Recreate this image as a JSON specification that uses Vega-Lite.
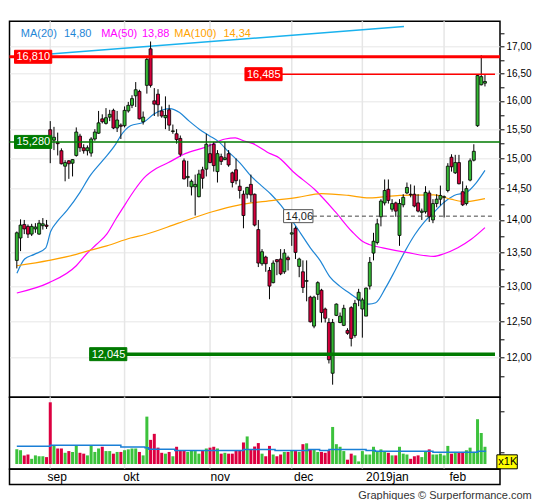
{
  "$schema": "https://vega.github.io/schema/vega-lite/v6.json",
  "background": "#ffffff",
  "padding": {"left": 6.5, "top": 19.3, "right": 0, "bottom": 0},
  "spacing": 0,
  "bounds": "flush",
  "config": {
    "font": "Liberation Sans",
    "view": {"stroke": "#000000", "strokeWidth": 1.5},
    "axis": {"labelFont": "Liberation Sans", "labelColor": "#000000", "tickColor": "#000000", "domain": false, "title": null, "labelFlush": false, "labelOverlap": false}
  },
  "title": {"text": "Graphiques © Surperformance.com", "orient": "bottom", "anchor": "end", "fontSize": 11, "fontWeight": "normal", "color": "#333333", "offset": 5},
  "datasets": {
    "candles": [
      {"i":0,"o":13.38,"h":13.82,"l":13.26,"c":13.80,"v":1147},
      {"i":1,"o":13.72,"h":14.01,"l":13.52,"c":13.92,"v":1106},
      {"i":2,"o":13.93,"h":14.00,"l":13.78,"c":13.86,"v":856},
      {"i":3,"o":13.90,"h":13.93,"l":13.72,"c":13.78,"v":898},
      {"i":4,"o":13.78,"h":13.94,"l":13.75,"c":13.90,"v":690},
      {"i":5,"o":13.86,"h":13.95,"l":13.80,"c":13.89,"v":856},
      {"i":6,"o":13.78,"h":14.00,"l":13.77,"c":13.95,"v":814},
      {"i":7,"o":13.91,"h":14.03,"l":13.85,"c":13.94,"v":814},
      {"i":8,"o":13.92,"h":14.00,"l":13.86,"c":13.90,"v":773},
      {"i":9,"o":15.49,"h":15.64,"l":14.92,"c":15.36,"v":3420},
      {"i":10,"o":15.31,"h":15.54,"l":15.14,"c":15.36,"v":1355},
      {"i":11,"o":15.27,"h":15.44,"l":15.05,"c":15.25,"v":1189},
      {"i":12,"o":15.13,"h":15.17,"l":14.90,"c":14.91,"v":1189},
      {"i":13,"o":14.87,"h":14.97,"l":14.62,"c":14.93,"v":981},
      {"i":14,"o":14.96,"h":14.97,"l":14.66,"c":14.91,"v":1064},
      {"i":15,"o":14.92,"h":14.99,"l":14.70,"c":14.98,"v":1022},
      {"i":16,"o":15.05,"h":15.53,"l":15.03,"c":15.45,"v":1355},
      {"i":17,"o":15.38,"h":15.42,"l":15.11,"c":15.18,"v":981},
      {"i":18,"o":15.18,"h":15.24,"l":15.08,"c":15.13,"v":939},
      {"i":19,"o":15.13,"h":15.22,"l":15.05,"c":15.18,"v":856},
      {"i":20,"o":15.09,"h":15.36,"l":15.03,"c":15.33,"v":1355},
      {"i":21,"o":15.33,"h":15.50,"l":15.30,"c":15.45,"v":1022},
      {"i":22,"o":15.43,"h":15.82,"l":15.42,"c":15.61,"v":1189},
      {"i":23,"o":15.68,"h":15.76,"l":15.60,"c":15.63,"v":1272},
      {"i":24,"o":15.60,"h":15.87,"l":15.58,"c":15.70,"v":1064},
      {"i":25,"o":15.71,"h":15.84,"l":15.64,"c":15.76,"v":1064},
      {"i":26,"o":15.83,"h":15.86,"l":15.50,"c":15.52,"v":939},
      {"i":27,"o":15.52,"h":15.82,"l":15.45,"c":15.66,"v":1022},
      {"i":28,"o":15.57,"h":15.60,"l":15.33,"c":15.55,"v":1022},
      {"i":29,"o":15.56,"h":15.90,"l":15.53,"c":15.83,"v":1106},
      {"i":30,"o":15.82,"h":15.98,"l":15.79,"c":15.92,"v":1147},
      {"i":31,"o":15.92,"h":16.10,"l":15.87,"c":16.04,"v":1189},
      {"i":32,"o":16.09,"h":16.34,"l":15.89,"c":16.20,"v":1189},
      {"i":33,"o":16.17,"h":16.20,"l":15.67,"c":15.68,"v":1022},
      {"i":34,"o":15.63,"h":15.81,"l":15.58,"c":15.71,"v":856},
      {"i":35,"o":16.28,"h":16.79,"l":16.13,"c":16.76,"v":2728},
      {"i":36,"o":16.96,"h":17.10,"l":16.24,"c":16.28,"v":1605},
      {"i":37,"o":16.00,"h":16.23,"l":15.73,"c":15.94,"v":1896},
      {"i":38,"o":16.12,"h":16.21,"l":15.72,"c":15.93,"v":1230},
      {"i":39,"o":15.82,"h":15.90,"l":15.70,"c":15.73,"v":981},
      {"i":40,"o":15.70,"h":16.08,"l":15.50,"c":15.74,"v":939},
      {"i":41,"o":15.84,"h":15.93,"l":15.47,"c":15.57,"v":1022},
      {"i":42,"o":15.46,"h":15.58,"l":15.42,"c":15.47,"v":814},
      {"i":43,"o":15.42,"h":15.50,"l":15.25,"c":15.32,"v":1272},
      {"i":44,"o":15.34,"h":15.39,"l":15.03,"c":15.07,"v":1106},
      {"i":45,"o":14.96,"h":15.00,"l":14.65,"c":14.66,"v":1106},
      {"i":46,"o":14.68,"h":14.96,"l":14.53,"c":14.70,"v":1022},
      {"i":47,"o":14.53,"h":14.65,"l":14.39,"c":14.62,"v":1106},
      {"i":48,"o":14.53,"h":14.73,"l":14.07,"c":14.57,"v":1064},
      {"i":49,"o":14.37,"h":14.81,"l":14.36,"c":14.74,"v":939},
      {"i":50,"o":14.81,"h":14.86,"l":14.50,"c":14.67,"v":1106},
      {"i":51,"o":14.82,"h":15.42,"l":14.70,"c":15.24,"v":1189},
      {"i":52,"o":15.08,"h":15.25,"l":14.92,"c":14.93,"v":1230},
      {"i":53,"o":15.24,"h":15.28,"l":14.78,"c":14.88,"v":1272},
      {"i":54,"o":14.78,"h":15.14,"l":14.60,"c":15.08,"v":1189},
      {"i":55,"o":15.03,"h":15.08,"l":14.89,"c":14.95,"v":939},
      {"i":56,"o":14.98,"h":15.28,"l":14.97,"c":15.01,"v":981},
      {"i":57,"o":15.08,"h":15.14,"l":14.86,"c":14.89,"v":939},
      {"i":58,"o":14.76,"h":14.78,"l":14.52,"c":14.60,"v":939},
      {"i":59,"o":14.81,"h":15.00,"l":14.57,"c":14.63,"v":1106},
      {"i":60,"o":14.54,"h":14.65,"l":14.34,"c":14.47,"v":1106},
      {"i":61,"o":14.41,"h":14.47,"l":13.87,"c":14.07,"v":1480},
      {"i":62,"o":14.41,"h":14.53,"l":14.34,"c":14.52,"v":1771},
      {"i":63,"o":14.57,"h":14.73,"l":14.28,"c":14.40,"v":1118},
      {"i":64,"o":14.41,"h":14.42,"l":13.90,"c":13.92,"v":1284},
      {"i":65,"o":13.85,"h":14.00,"l":13.28,"c":13.34,"v":1451},
      {"i":66,"o":13.33,"h":13.55,"l":13.30,"c":13.51,"v":939},
      {"i":67,"o":13.43,"h":13.45,"l":13.21,"c":13.33,"v":814},
      {"i":68,"o":13.23,"h":13.28,"l":12.81,"c":13.00,"v":1314},
      {"i":69,"o":13.05,"h":13.38,"l":13.04,"c":13.34,"v":898},
      {"i":70,"o":13.39,"h":13.40,"l":13.16,"c":13.36,"v":814},
      {"i":71,"o":13.40,"h":13.55,"l":13.16,"c":13.18,"v":898},
      {"i":72,"o":13.21,"h":13.55,"l":13.18,"c":13.49,"v":1022},
      {"i":73,"o":13.42,"h":13.45,"l":13.23,"c":13.39,"v":1022},
      {"i":74,"o":13.78,"h":14.06,"l":13.60,"c":13.80,"v":1106},
      {"i":75,"o":13.87,"h":13.90,"l":13.40,"c":13.50,"v":1064},
      {"i":76,"o":13.29,"h":13.42,"l":13.13,"c":13.40,"v":1022},
      {"i":77,"o":13.21,"h":13.38,"l":12.90,"c":12.98,"v":1397},
      {"i":78,"o":13.07,"h":13.38,"l":12.78,"c":13.08,"v":1438},
      {"i":79,"o":12.84,"h":12.86,"l":12.48,"c":12.49,"v":1147},
      {"i":80,"o":12.43,"h":12.86,"l":12.40,"c":12.84,"v":1147},
      {"i":81,"o":12.88,"h":13.07,"l":12.80,"c":13.05,"v":1022},
      {"i":82,"o":12.94,"h":12.96,"l":12.48,"c":12.62,"v":1022},
      {"i":83,"o":12.67,"h":12.69,"l":12.48,"c":12.54,"v":981},
      {"i":84,"o":12.48,"h":12.54,"l":11.92,"c":11.97,"v":1106},
      {"i":85,"o":11.79,"h":12.53,"l":11.64,"c":12.48,"v":2229},
      {"i":86,"o":12.58,"h":12.75,"l":12.57,"c":12.74,"v":1397},
      {"i":87,"o":12.48,"h":12.62,"l":12.47,"c":12.57,"v":1272},
      {"i":88,"o":12.44,"h":12.73,"l":12.43,"c":12.68,"v":1064},
      {"i":89,"o":12.37,"h":12.40,"l":12.31,"c":12.33,"v":648},
      {"i":90,"o":12.69,"h":12.71,"l":12.15,"c":12.26,"v":939},
      {"i":91,"o":12.30,"h":12.80,"l":12.27,"c":12.75,"v":856},
      {"i":92,"o":12.80,"h":12.96,"l":12.71,"c":12.91,"v":565},
      {"i":93,"o":12.67,"h":12.83,"l":12.27,"c":12.80,"v":1064},
      {"i":94,"o":12.57,"h":12.98,"l":12.57,"c":12.97,"v":898},
      {"i":95,"o":13.00,"h":13.43,"l":12.95,"c":13.35,"v":898},
      {"i":96,"o":13.49,"h":13.80,"l":13.38,"c":13.67,"v":1272},
      {"i":97,"o":13.65,"h":14.02,"l":13.62,"c":13.94,"v":1022},
      {"i":98,"o":14.05,"h":14.33,"l":13.90,"c":14.30,"v":1147},
      {"i":99,"o":14.27,"h":14.65,"l":14.23,"c":14.47,"v":1064},
      {"i":100,"o":14.49,"h":14.65,"l":14.26,"c":14.31,"v":981},
      {"i":101,"o":14.17,"h":14.33,"l":14.13,"c":14.26,"v":856},
      {"i":102,"o":14.27,"h":14.29,"l":14.05,"c":14.14,"v":856},
      {"i":103,"o":13.76,"h":14.33,"l":13.60,"c":14.26,"v":1272},
      {"i":104,"o":14.24,"h":14.41,"l":14.20,"c":14.36,"v":939},
      {"i":105,"o":14.43,"h":14.60,"l":14.41,"c":14.52,"v":898},
      {"i":106,"o":14.41,"h":14.57,"l":14.36,"c":14.40,"v":690},
      {"i":107,"o":14.41,"h":14.55,"l":14.20,"c":14.22,"v":814},
      {"i":108,"o":14.27,"h":14.41,"l":14.12,"c":14.14,"v":856},
      {"i":109,"o":14.12,"h":14.18,"l":14.00,"c":14.14,"v":773},
      {"i":110,"o":14.13,"h":14.54,"l":14.10,"c":14.44,"v":1064},
      {"i":111,"o":14.43,"h":14.47,"l":13.97,"c":14.05,"v":1147},
      {"i":112,"o":14.00,"h":14.33,"l":13.95,"c":14.26,"v":898},
      {"i":113,"o":14.26,"h":14.41,"l":14.20,"c":14.33,"v":898},
      {"i":114,"o":14.33,"h":14.55,"l":14.23,"c":14.39,"v":939},
      {"i":115,"o":14.36,"h":14.39,"l":14.04,"c":14.37,"v":856},
      {"i":116,"o":14.47,"h":14.92,"l":14.44,"c":14.87,"v":1314},
      {"i":117,"o":15.02,"h":15.07,"l":14.78,"c":14.86,"v":939},
      {"i":118,"o":14.76,"h":15.06,"l":14.74,"c":14.93,"v":1022},
      {"i":119,"o":14.93,"h":15.06,"l":14.57,"c":14.58,"v":1022},
      {"i":120,"o":14.45,"h":14.62,"l":14.22,"c":14.24,"v":1022},
      {"i":121,"o":14.26,"h":14.55,"l":14.23,"c":14.50,"v":1106},
      {"i":122,"o":14.64,"h":15.00,"l":14.62,"c":14.96,"v":1230},
      {"i":123,"o":14.97,"h":15.24,"l":14.95,"c":15.12,"v":1022},
      {"i":124,"o":15.56,"h":16.48,"l":15.54,"c":16.46,"v":2603},
      {"i":125,"o":16.29,"h":16.84,"l":16.28,"c":16.44,"v":1938},
      {"i":126,"o":16.32,"h":16.48,"l":16.26,"c":16.35,"v":1272}
    ],
    "ma": [
      {"s":"MA20","i":0.03,"p":13.19},{"s":"MA20","i":2.1,"p":13.40},{"s":"MA20","i":4.7,"p":13.47},{"s":"MA20","i":7.8,"p":13.57},
      {"s":"MA20","i":9.1,"p":13.82},{"s":"MA20","i":10.8,"p":13.97},{"s":"MA20","i":13.5,"p":14.15},{"s":"MA20","i":17,"p":14.44},
      {"s":"MA20","i":19.6,"p":14.70},{"s":"MA20","i":23.2,"p":14.97},{"s":"MA20","i":26.7,"p":15.25},{"s":"MA20","i":28,"p":15.39},
      {"s":"MA20","i":30.6,"p":15.56},{"s":"MA20","i":34.1,"p":15.62},{"s":"MA20","i":36.8,"p":15.76},{"s":"MA20","i":39.4,"p":15.84},
      {"s":"MA20","i":41.2,"p":15.86},{"s":"MA20","i":43.8,"p":15.79},{"s":"MA20","i":46.4,"p":15.64},{"s":"MA20","i":49.1,"p":15.50},
      {"s":"MA20","i":51.7,"p":15.39},{"s":"MA20","i":54.4,"p":15.28},{"s":"MA20","i":57,"p":15.11},{"s":"MA20","i":60.1,"p":14.92},
      {"s":"MA20","i":63.1,"p":14.70},{"s":"MA20","i":65.8,"p":14.55},{"s":"MA20","i":68.4,"p":14.41},{"s":"MA20","i":71.1,"p":14.23},
      {"s":"MA20","i":73.7,"p":14.02},{"s":"MA20","i":76.3,"p":13.80},{"s":"MA20","i":79,"p":13.57},{"s":"MA20","i":81.6,"p":13.38},
      {"s":"MA20","i":84.2,"p":13.14},{"s":"MA20","i":86.9,"p":13.00},{"s":"MA20","i":89.5,"p":12.90},{"s":"MA20","i":91.3,"p":12.83},
      {"s":"MA20","i":94.7,"p":12.74},{"s":"MA20","i":96.6,"p":12.76},{"s":"MA20","i":99.2,"p":12.97},{"s":"MA20","i":101.8,"p":13.23},
      {"s":"MA20","i":104.5,"p":13.52},{"s":"MA20","i":107.1,"p":13.77},{"s":"MA20","i":109.7,"p":13.97},{"s":"MA20","i":112.4,"p":14.13},
      {"s":"MA20","i":115,"p":14.28},{"s":"MA20","i":117.7,"p":14.39},{"s":"MA20","i":121,"p":14.44},{"s":"MA20","i":123.7,"p":14.60},
      {"s":"MA20","i":126,"p":14.80},
      {"s":"MA50","i":0,"p":12.90},{"s":"MA50","i":8.7,"p":13.05},{"s":"MA50","i":16,"p":13.30},{"s":"MA50","i":18.8,"p":13.48},
      {"s":"MA50","i":21.4,"p":13.62},{"s":"MA50","i":24.2,"p":13.78},{"s":"MA50","i":26.7,"p":14.02},{"s":"MA50","i":29.3,"p":14.26},
      {"s":"MA50","i":31.6,"p":14.47},{"s":"MA50","i":34.3,"p":14.68},{"s":"MA50","i":37.5,"p":14.83},{"s":"MA50","i":40.8,"p":14.93},
      {"s":"MA50","i":45.3,"p":15.08},{"s":"MA50","i":50.8,"p":15.19},{"s":"MA50","i":56.1,"p":15.33},{"s":"MA50","i":58.8,"p":15.35},
      {"s":"MA50","i":61,"p":15.30},{"s":"MA50","i":63.6,"p":15.25},{"s":"MA50","i":68.2,"p":15.08},{"s":"MA50","i":70.1,"p":15.03},
      {"s":"MA50","i":74.7,"p":14.76},{"s":"MA50","i":80.1,"p":14.49},{"s":"MA50","i":85.7,"p":14.13},{"s":"MA50","i":90.2,"p":13.82},
      {"s":"MA50","i":93,"p":13.67},{"s":"MA50","i":94.8,"p":13.62},{"s":"MA50","i":98.5,"p":13.57},{"s":"MA50","i":104.9,"p":13.50},
      {"s":"MA50","i":112.2,"p":13.44},{"s":"MA50","i":115,"p":13.48},{"s":"MA50","i":118.7,"p":13.57},{"s":"MA50","i":122.3,"p":13.70},
      {"s":"MA50","i":126,"p":13.88},
      {"s":"MA100","i":0,"p":13.30},{"s":"MA100","i":8.7,"p":13.38},{"s":"MA100","i":16,"p":13.47},{"s":"MA100","i":19.6,"p":13.53},
      {"s":"MA100","i":24.2,"p":13.60},{"s":"MA100","i":30.6,"p":13.72},{"s":"MA100","i":34.3,"p":13.77},{"s":"MA100","i":43.5,"p":13.95},
      {"s":"MA100","i":52.6,"p":14.13},{"s":"MA100","i":60,"p":14.24},{"s":"MA100","i":69.1,"p":14.31},{"s":"MA100","i":75.6,"p":14.36},
      {"s":"MA100","i":82,"p":14.42},{"s":"MA100","i":89.3,"p":14.39},{"s":"MA100","i":94.8,"p":14.35},{"s":"MA100","i":103.1,"p":14.39},
      {"s":"MA100","i":112.2,"p":14.40},{"s":"MA100","i":116.8,"p":14.33},{"s":"MA100","i":120.5,"p":14.29},{"s":"MA100","i":126,"p":14.34},
      {"s":"trend","i":-0.62,"p":16.81},{"s":"trend","i":104.2,"p":17.39}
    ],
    "vma": [
      {"i":0,"vm":1300},{"i":9,"vm":1342},{"i":28,"vm":1260},{"i":34.5,"vm":1230},{"i":35.5,"vm":1147},
      {"i":42.5,"vm":1093},{"i":61,"vm":1135},{"i":69.5,"vm":1093},{"i":78.5,"vm":1135},{"i":81.5,"vm":1093},
      {"i":84,"vm":1135},{"i":94,"vm":1093},{"i":96.5,"vm":1052},{"i":112,"vm":1010},{"i":124,"vm":1052},{"i":126.3,"vm":1052}
    ],
    "months": [
      {"m":"sep","i":9},{"m":"okt","i":29},{"m":"nov","i":52},{"m":"dec","i":74},{"m":"2019jan","i":93},{"m":"feb","i":115}
    ],
    "legend": [
      {"t":"MA(20)","i":1.09,"s":"MA20"},{"t":"14,80","i":12.69,"s":"MA20"},
      {"t":"MA(50)","i":22.71,"s":"MA50"},{"t":"13,88","i":33.68,"s":"MA50"},
      {"t":"MA(100)","i":42.39,"s":"MA100"},{"t":"14,34","i":55.6,"s":"MA100"}
    ]
  },
  "vconcat": [
    {
      "width": 490.5,
      "height": 376,
      "layer": [
        {
          "data": {"name": "months"},
          "mark": {"type": "rule", "color": "#e6e6e6", "strokeWidth": 1.5},
          "encoding": {
            "x": {"field": "i", "type": "quantitative", "scale": {"domain": [-0.625, 128.7], "nice": false, "zero": false}, "axis": null}
          }
        },
        {
          "data": {"name": "ma"},
          "transform": [{"filter": "datum.s !== 'trend'"}],
          "mark": {"type": "line", "strokeWidth": 1.2, "interpolate": "monotone"},
          "encoding": {
            "x": {"field": "i", "type": "quantitative", "scale": {"domain": [-0.625, 128.7], "nice": false, "zero": false}},
            "y": {
              "field": "p", "type": "quantitative",
              "scale": {"type": "log", "domain": [11.541, 17.394], "nice": false, "zero": false},
              "axis": {
                "orient": "right",
                "values": [11.75, 12, 12.25, 12.5, 12.75, 13, 13.25, 13.5, 13.75, 14, 14.25, 14.5, 14.75, 15, 15.25, 15.5, 15.75, 16, 16.25, 16.5, 16.75, 17, 17.25],
                "labelExpr": "datum.value % 0.5 === 0 ? replace(format(datum.value, '.2f'), '.', ',') : ''",
                "grid": true,
                "gridColor": "#e6e6e6",
                "gridOpacity": {"condition": {"test": "datum.value % 0.5 === 0", "value": 1}, "value": 0},
                "tickSize": 4,
                "labelPadding": 2,
                "labelFontSize": 10
              }
            },
            "color": {"field": "s", "type": "nominal", "legend": null,
              "scale": {"domain": ["MA20", "MA50", "MA100", "trend"], "range": ["#1f86d6", "#ff00ff", "#ffa200", "#19b2ee"]}},
            "detail": {"field": "s"}
          }
        },
        {
          "data": {"name": "ma"},
          "transform": [{"filter": "datum.s === 'trend'"}],
          "mark": {"type": "line", "strokeWidth": 1.5},
          "encoding": {
            "x": {"field": "i", "type": "quantitative"},
            "y": {"field": "p", "type": "quantitative"},
            "color": {"field": "s", "type": "nominal", "legend": null}
          }
        },
        {
          "data": {"name": "candles"},
          "mark": {"type": "rule", "color": "#000000", "strokeWidth": 1},
          "encoding": {
            "x": {"field": "i", "type": "quantitative"},
            "y": {"field": "l", "type": "quantitative"},
            "y2": {"field": "h"}
          }
        },
        {
          "data": {"name": "candles"},
          "mark": {"type": "bar", "orient": "vertical", "size": 3, "stroke": "#000000", "strokeWidth": 0.8},
          "encoding": {
            "x": {"field": "i", "type": "quantitative"},
            "y": {"field": "o", "type": "quantitative"},
            "y2": {"field": "c"},
            "fill": {"condition": {"test": "datum.c >= datum.o", "value": "#33b833"}, "value": "#d4003c"}
          }
        },
        {
          "data": {"values": [{"lvl": 16.81}]},
          "mark": {"type": "rule", "color": "#ff0000", "strokeWidth": 3},
          "encoding": {"y": {"field": "lvl", "type": "quantitative"}}
        },
        {
          "data": {"values": [{"lvl": 15.28}]},
          "mark": {"type": "rule", "color": "#007a00", "strokeWidth": 1.5},
          "encoding": {"y": {"field": "lvl", "type": "quantitative"}}
        },
        {
          "data": {"values": [{"lvl": 12.045, "a": 19.6, "b": 128.7}]},
          "mark": {"type": "rule", "color": "#007a00", "strokeWidth": 3.5},
          "encoding": {"y": {"field": "lvl", "type": "quantitative"}, "x": {"field": "a", "type": "quantitative"}, "x2": {"field": "b"}}
        },
        {
          "data": {"values": [{"lvl": 16.485, "a": 61.4, "b": 128.7}]},
          "mark": {"type": "rule", "color": "#ff0000", "strokeWidth": 1.5},
          "encoding": {"y": {"field": "lvl", "type": "quantitative"}, "x": {"field": "a", "type": "quantitative"}, "x2": {"field": "b"}}
        },
        {
          "data": {"values": [{"lvl": 14.06, "a": 79.7, "b": 128.7}]},
          "mark": {"type": "rule", "color": "#444444", "strokeWidth": 1, "strokeDash": [4, 3]},
          "encoding": {"y": {"field": "lvl", "type": "quantitative"}, "x": {"field": "a", "type": "quantitative"}, "x2": {"field": "b"}}
        },
        {
          "data": {"values": [
            {"t": "16,810", "lvl": 16.81, "a": -0.625, "b": 9.4, "k": "red"},
            {"t": "15,280", "lvl": 15.28, "a": -0.625, "b": 9.4, "k": "green"},
            {"t": "12,045", "lvl": 12.045, "a": 19.6, "b": 29.6, "k": "green"},
            {"t": "16,485", "lvl": 16.485, "a": 61.4, "b": 71.4, "k": "red"},
            {"t": "14,06", "lvl": 14.06, "a": 71.8, "b": 79.7, "k": "ref"}
          ]},
          "layer": [
            {
              "mark": {"type": "bar", "orient": "horizontal", "size": 13, "strokeWidth": 1},
              "encoding": {
                "x": {"field": "a", "type": "quantitative"},
                "x2": {"field": "b"},
                "y": {"field": "lvl", "type": "quantitative"},
                "fill": {"field": "k", "type": "nominal", "legend": null, "scale": {"domain": ["red", "green", "ref"], "range": ["#ff0000", "#007a00", "#ffffff"]}},
                "stroke": {"field": "k", "type": "nominal", "legend": null, "scale": {"domain": ["red", "green", "ref"], "range": ["#ff0000", "#007a00", "#555555"]}}
              }
            },
            {
              "mark": {"type": "text", "align": "left", "baseline": "middle", "dx": 2, "dy": 0.5, "fontSize": 11},
              "encoding": {
                "x": {"field": "a", "type": "quantitative"},
                "y": {"field": "lvl", "type": "quantitative"},
                "text": {"field": "t"},
                "color": {"condition": {"test": "datum.k === 'ref'", "value": "#222222"}, "value": "#ffffff"}
              }
            }
          ]
        },
        {
          "data": {"name": "legend"},
          "mark": {"type": "text", "align": "left", "baseline": "middle", "fontSize": 11},
          "encoding": {
            "x": {"field": "i", "type": "quantitative"},
            "y": {"datum": 17.25, "type": "quantitative"},
            "text": {"field": "t"},
            "color": {"field": "s", "type": "nominal", "legend": null}
          }
        }
      ]
    },
    {
      "width": 490.5,
      "height": 71.7,
      "layer": [
        {
          "data": {"name": "months"},
          "mark": {"type": "rule", "color": "#e6e6e6", "strokeWidth": 1.5},
          "encoding": {
            "x": {"field": "i", "type": "quantitative", "scale": {"domain": [-0.625, 128.7], "nice": false, "zero": false}, "axis": null}
          }
        },
        {
          "data": {"name": "candles"},
          "mark": {"type": "bar", "orient": "vertical", "size": 3},
          "encoding": {
            "x": {"field": "i", "type": "quantitative"},
            "y": {
              "field": "v", "type": "quantitative",
              "scale": {"domain": [440, 3420], "nice": false, "zero": false},
              "axis": {
                "orient": "right",
                "values": [1000, 2000, 3000],
                "labelExpr": "datum.value === 2000 ? '2000' : ''",
                "grid": true,
                "gridColor": "#e6e6e6",
                "gridOpacity": {"condition": {"test": "datum.value === 2000", "value": 1}, "value": 0},
                "tickSize": 4,
                "labelPadding": 2,
                "labelFontSize": 10
              }
            },
            "y2": {"datum": 440},
            "fill": {"condition": {"test": "datum.c >= datum.o", "value": "#3cc23c"}, "value": "#dc0040"}
          }
        },
        {
          "data": {"name": "vma"},
          "mark": {"type": "line", "interpolate": "step-after", "color": "#1a7fd6", "strokeWidth": 1.5},
          "encoding": {
            "x": {"field": "i", "type": "quantitative"},
            "y": {"field": "vm", "type": "quantitative"}
          }
        },
        {
          "data": {"values": [{"t": "x1K", "a": 129.2, "b": 134.7, "v": 545}]},
          "layer": [
            {
              "mark": {"type": "bar", "orient": "horizontal", "size": 14, "fill": "#ffff00", "stroke": "#000000", "strokeWidth": 1},
              "encoding": {
                "x": {"field": "a", "type": "quantitative"},
                "x2": {"field": "b"},
                "y": {"field": "v", "type": "quantitative"}
              }
            },
            {
              "mark": {"type": "text", "align": "left", "baseline": "middle", "dx": 1.5, "dy": 0.5, "fontSize": 11, "color": "#000000"},
              "encoding": {
                "x": {"field": "a", "type": "quantitative"},
                "y": {"field": "v", "type": "quantitative"},
                "text": {"field": "t"}
              }
            }
          ]
        }
      ]
    },
    {
      "width": 490.5,
      "height": 15.3,
      "data": {"name": "months"},
      "mark": {"type": "text", "align": "left", "baseline": "middle", "dx": 1.5, "dy": 0.5, "fontSize": 12, "color": "#000000"},
      "encoding": {
        "x": {"field": "i", "type": "quantitative", "scale": {"domain": [-0.625, 128.7], "nice": false, "zero": false}, "axis": null},
        "text": {"field": "m"}
      }
    }
  ]
}
